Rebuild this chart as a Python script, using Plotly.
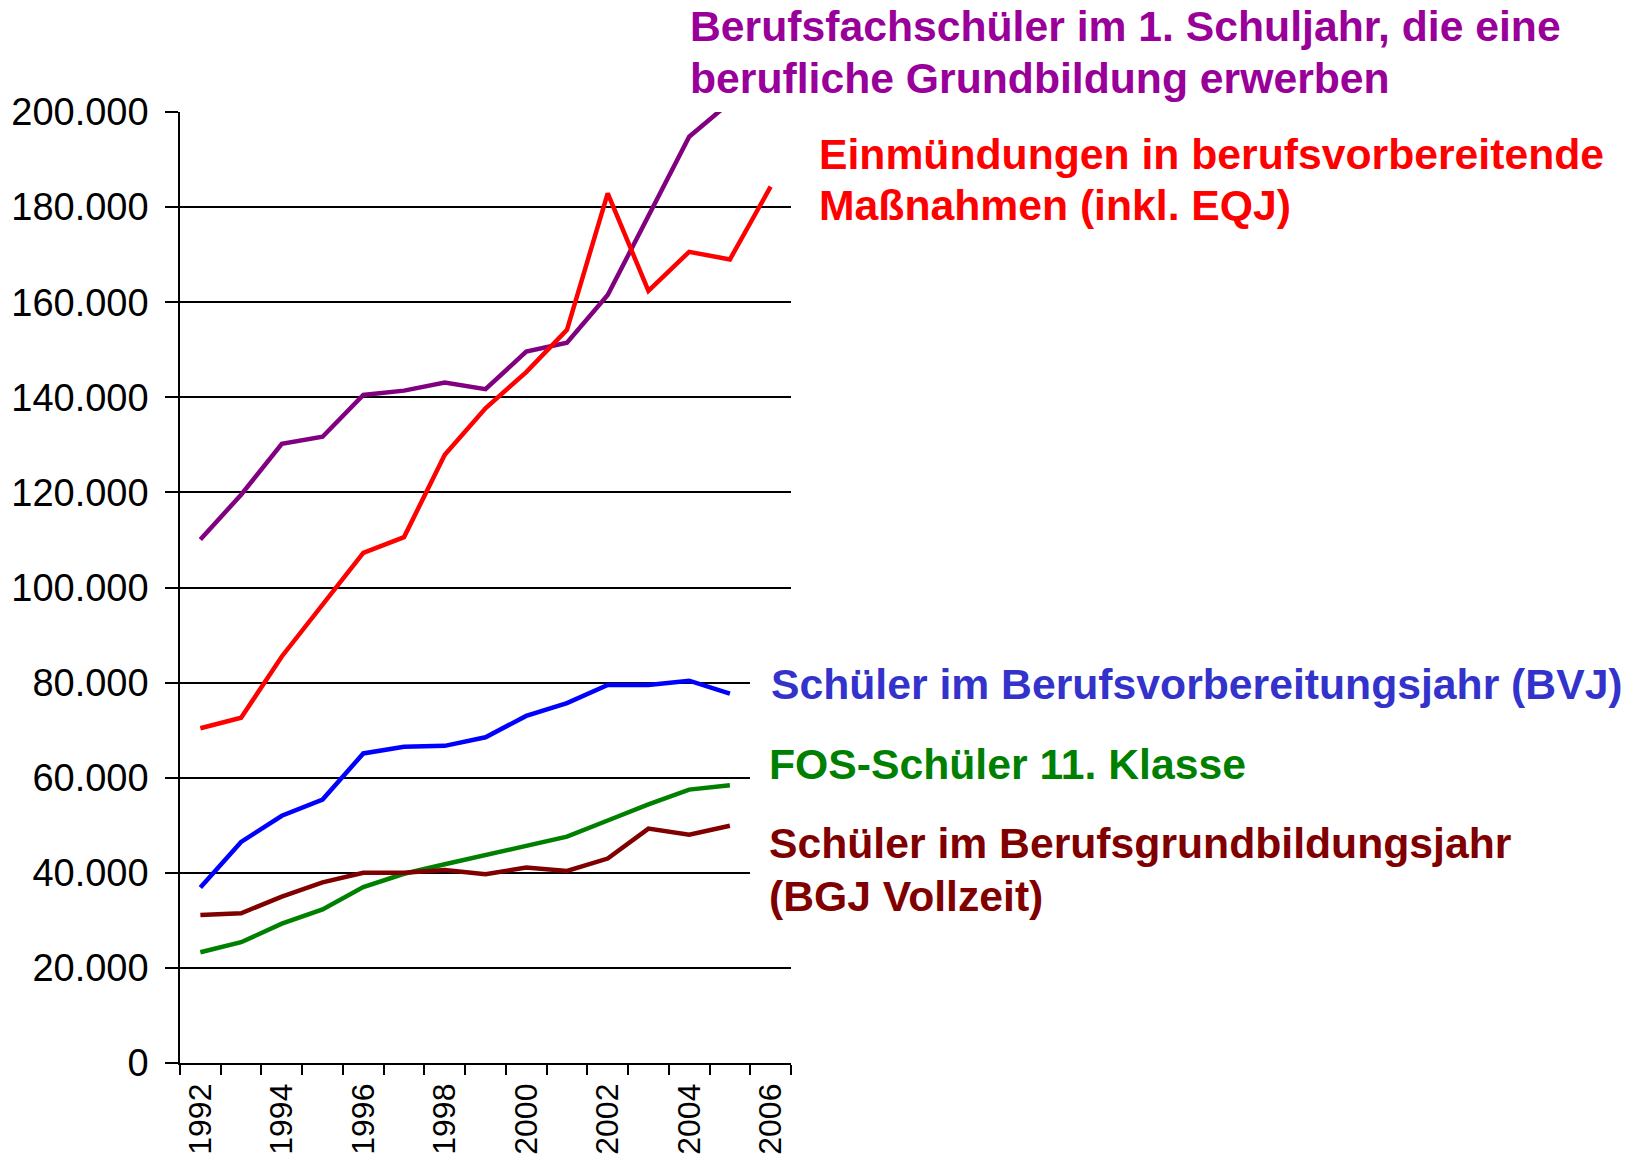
import plotly.graph_objects as go

years = list(range(1992, 2007))

berufsfach = [110100, 119500, 130200, 131700, 140500, 141400, 143100, 141700, 149600, 151500, 161500, 178200, 194800, 202000]
einmuendungen = [70400, 72600, 85500, 96500, 107300, 110600, 127900, 137700, 145300, 154200, 182900, 162400, 170600, 169000, 184300]
bvj = [36900, 46500, 52000, 55400, 65100, 66500, 66700, 68500, 73000, 75700, 79500, 79500, 80400, 77700]
fos = [23300, 25400, 29300, 32300, 37000, 39800, 41800, 43800, 45600, 47600, 51000, 54400, 57500, 58400]
bgj = [31100, 31500, 35000, 38000, 40000, 40000, 40600, 39700, 41100, 40400, 43000, 49300, 48000, 49900]

tick_years = [1992, 1994, 1996, 1998, 2000, 2002, 2004, 2006]

series = [
    ("Berufsfachschüler", berufsfach, "#800080"),
    ("Einmündungen", einmuendungen, "#FF0000"),
    ("BVJ", bvj, "#0000FF"),
    ("FOS", fos, "#008000"),
    ("BGJ", bgj, "#800000"),
]

# label texts: (lines, colour, left px, [cap-centre px per line])
labels = [
    (["Berufsfachschüler im 1. Schuljahr, die eine", "berufliche Grundbildung erwerben"], "#990099", 693, [26, 78]),
    (["Einmündungen in berufsvorbereitende", "Maßnahmen (inkl. EQJ)"], "#FF0000", 822, [154, 205]),
    (["Schüler im Berufsvorbereitungsjahr (BVJ)"], "#3333CC", 774, [684]),
    (["FOS-Schüler 11. Klasse"], "#008000", 772, [764]),
    (["Schüler im Berufsgrundbildungsjahr", "(BGJ Vollzeit)"], "#800000", 772, [843, 896]),
]

W, H = 1640, 1158
L, R, T, B = 180, 849, 112, 95
pw, ph = W - L - R, H - T - B

fig = go.Figure()
for name, vals, col in series:
    fig.add_trace(go.Scatter(
        x=years[:len(vals)], y=vals, mode="lines", name=name,
        line=dict(color=col, width=4.5), showlegend=False,
    ))

annotations = []
for lines, col, left, ys in labels:
    for txt, yc in zip(lines, ys):
        annotations.append(dict(
            text=txt, xref="paper", yref="paper",
            x=(left - 5 - L) / pw, y=(H - B - yc) / ph,
            xanchor="left", yanchor="middle", showarrow=False,
            font=dict(family="Liberation Sans, Arial, sans-serif", size=42.7, color=col, weight="bold"),
        ))

fig.update_layout(
    width=W, height=H,
    margin=dict(l=L, r=R, t=T, b=B, pad=0, autoexpand=False),
    paper_bgcolor="white", plot_bgcolor="white",
    separators=",.",
    annotations=annotations,
    shapes=[dict(type="rect", xref="paper", yref="y", x0=(750 - L) / pw, x1=1.01,
                 y0=34000, y1=86000, fillcolor="white", line=dict(width=0), layer="above")],
    font=dict(family="Liberation Sans, Arial, sans-serif", color="black"),
)

fig.update_xaxes(
    range=[1991.5, 2006.5], tickmode="array", tickvals=tick_years,
    ticktext=[str(y) for y in tick_years], tickangle=-90,
    ticks="outside", ticklen=6, tickcolor="rgba(0,0,0,0)",
    tickfont=dict(size=32, color="black"),
    showline=True, linecolor="black", linewidth=1.5,
    showgrid=False, zeroline=False, automargin=False,
    minor=dict(tickmode="linear", tick0=1991.5, dtick=1, ticks="outside",
               ticklen=10, tickcolor="black", tickwidth=1.5, showgrid=False),
    ticklabelstandoff=0,
)
fig.update_yaxes(
    range=[0, 200000], dtick=20000, tick0=0, tickformat=",d",
    ticks="outside", ticklen=13, tickcolor="black", tickwidth=1.5,
    tickfont=dict(size=38, color="black"),
    showline=True, linecolor="black", linewidth=1.5,
    showgrid=True, gridcolor="black", gridwidth=1.5,
    zeroline=False, ticklabelstandoff=9, automargin=False,
)

fig.write_html("out.html", config={"displayModeBar": False},
               post_script="document.body.style.margin='0';")
